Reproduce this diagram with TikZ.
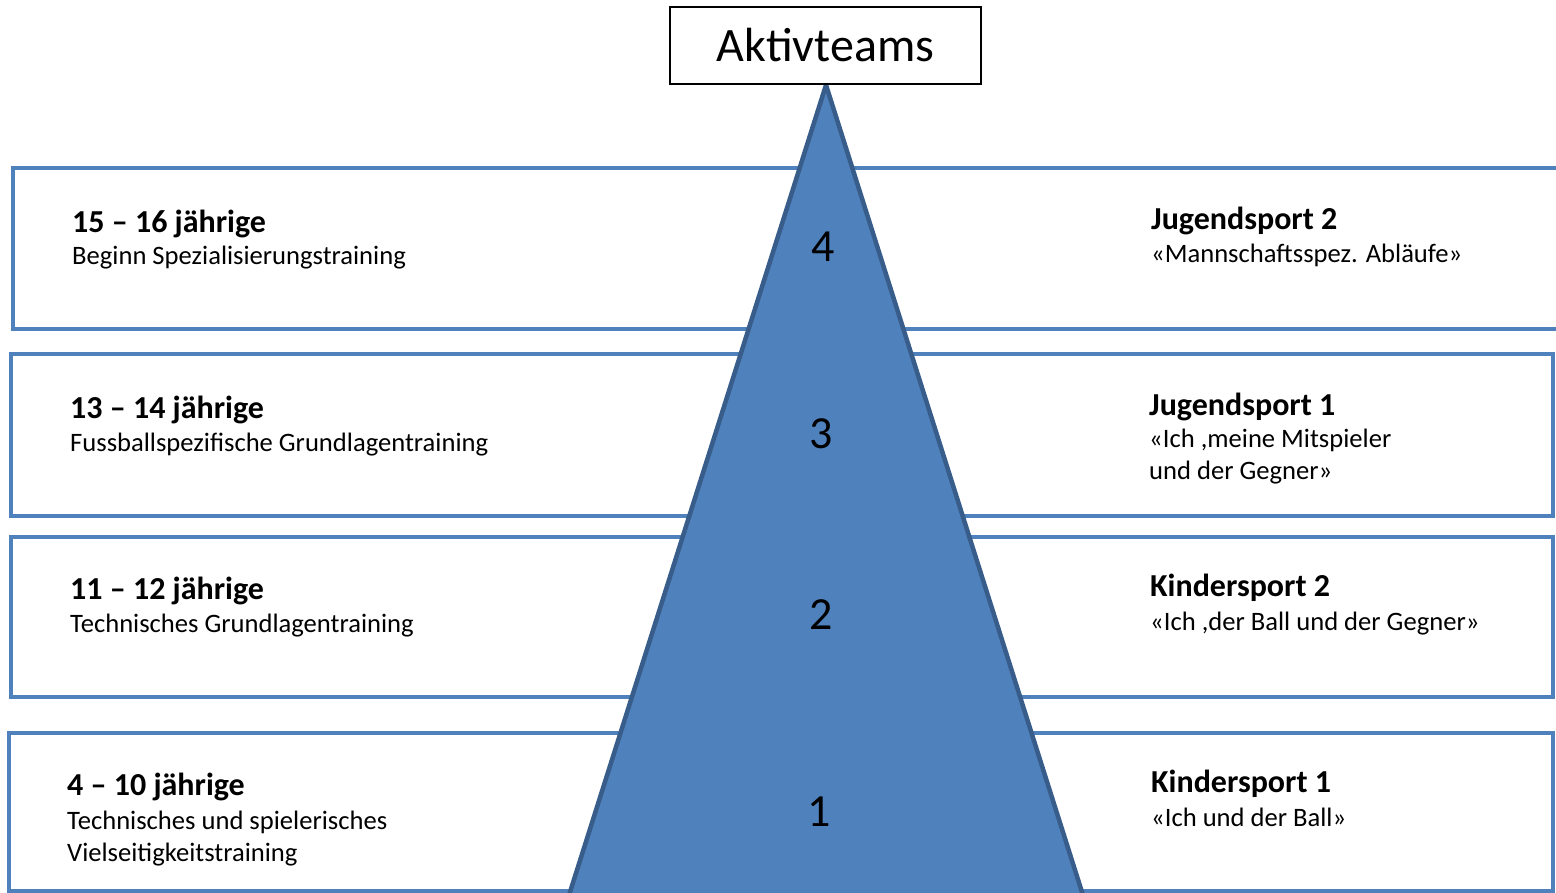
\documentclass[tikz,border=0pt]{standalone}
\usepackage{fontspec}
\setmainfont{Carlito}
\definecolor{bandblue}{HTML}{4F81BD}
\definecolor{edgeblue}{HTML}{385D8A}
\begin{document}
\begin{tikzpicture}[x=1pt,y=-1pt]
    \tikzset{
      band/.style={draw=bandblue, line width=4pt},
      head/.style={anchor=base west, inner sep=0pt, font=\fontsize{32}{33}\selectfont\bfseries},
      desc/.style={anchor=base west, inner sep=0pt, align=left, font=\fontsize{26.6}{32}\selectfont},
      level/.style={inner sep=0pt, font=\fontsize{46}{46}\selectfont}
    }
    \useasboundingbox (0,0) rectangle (1556,892);
    % the four bands
    \draw [band] (13,168) rectangle (1562,329);
    \draw [band] (11,354) rectangle (1553,516);
    \draw [band] (11,537) rectangle (1553,697);
    \draw [band] (9,733) rectangle (1553,891);
    % pyramid
    \filldraw [fill=bandblue, draw=edgeblue, line width=4.5pt, line join=round]
      (826,85) -- (1084.5,900) -- (567.5,900) -- cycle;
    \node [draw, line width=1.8pt, minimum width=311pt, minimum height=77pt,
      font=\fontsize{48}{48}\selectfont] (top) at (825.5,45.5) {Aktivteams};
    % levels
    \node [level] (n4) at (823,247) {4};
    \node [level] (n3) at (821,434) {3};
    \node [level] (n2) at (821,615) {2};
    \node [level] (n1) at (819,812) {1};
    % left texts (base = last line)
    \node [head] (age4) at (72,232) {15 – 16 jährige};
    \node [desc] (train4) at (72,264) {Beginn Spezialisierungstraining};
    \node [head] (age3) at (70,418) {13 – 14 jährige};
    \node [desc] (train3) at (70,451) {Fussballspezifische Grundlagentraining};
    \node [head] (age2) at (70,599) {11 – 12 jährige};
    \node [desc] (train2) at (70,632) {Technisches Grundlagentraining};
    \node [head] (age1) at (67,795) {4 – 10 jährige};
    \node [desc] (train1) at (67,861) {Technisches und spielerisches\\Vielseitigkeitstraining};
    % right texts
    \node [head] (sport4) at (1151,229) {Jugendsport 2};
    \node [desc] (motto4) at (1151,262) {«Mannschaftsspez. Abläufe»};
    \node [head] (sport3) at (1149,415) {Jugendsport 1};
    \node [desc] (motto3) at (1149,479) {«Ich ,meine Mitspieler\\und der Gegner»};
    \node [head] (sport2) at (1150,596) {Kindersport 2};
    \node [desc] (motto2) at (1150,630) {«Ich ,der Ball und der Gegner»};
    \node [head] (sport1) at (1151,792) {Kindersport 1};
    \node [desc] (motto1) at (1151,826) {«Ich und der Ball»};
\end{tikzpicture}
\end{document}
